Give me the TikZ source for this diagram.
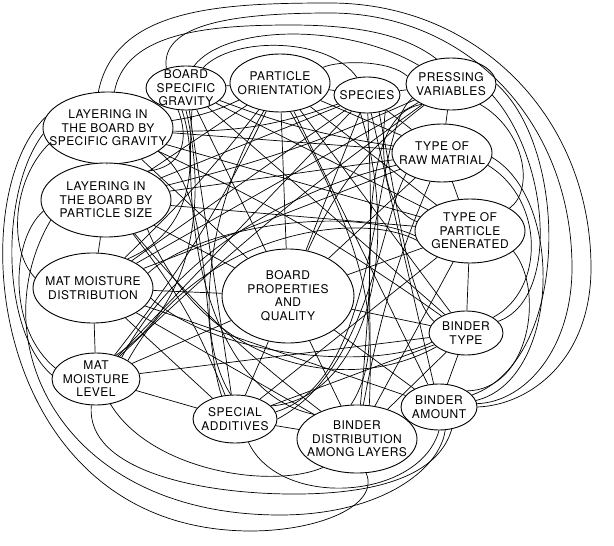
\documentclass[tikz,border=0pt]{standalone}
\usepackage{fontspec}
\usepackage{tikz}
\usetikzlibrary{shapes.geometric}
\newfontfamily\varfont[LetterSpace=4]{TeX Gyre Heros}

\begin{document}
\begin{tikzpicture}[x=1pt, y=1pt,
  var/.style 2 args={draw, ellipse, fill=white, line width=0.9pt, inner sep=0pt, minimum width=#1, minimum height=#2},
  txt/.style={align=center, inner sep=0pt, font=\varfont\fontsize{12}{13.5}\selectfont},
  link/.style={line width=0.7pt}
]
\useasboundingbox (0,0) rectangle (614,-546);

% Variables
\node[var={80pt}{44pt}, label={[txt]center:{BOARD\\SPECIFIC\\GRAVITY}}] (bsg) at (186,-88) {};
\node[var={100pt}{58pt}, label={[txt]center:{PARTICLE\\ORIENTATION}}] (po) at (280,-83) {};
\node[var={66pt}{36pt}, label={[txt]center:{SPECIES}}] (sp) at (367,-95) {};
\node[var={90pt}{52pt}, label={[txt]center:{PRESSING\\VARIABLES}}] (pv) at (451,-84) {};
\node[var={100pt}{58pt}, label={[txt]center:{TYPE OF\\RAW MATRIAL}}] (rm) at (442,-153) {};
\node[var={130pt}{72pt}, label={[txt]center:{LAYERING IN\\THE BOARD BY\\SPECIFIC GRAVITY}}] (lsg) at (108,-128) {};
\node[var={130pt}{74pt}, label={[txt]center:{LAYERING IN\\THE BOARD BY\\PARTICLE SIZE}}] (lps) at (106,-200) {};
\node[var={110pt}{64pt}, label={[txt]center:{TYPE OF\\PARTICLE\\GENERATED}}] (tpg) at (470,-231) {};
\node[var={120pt}{70pt}, label={[txt]center:{MAT MOISTURE\\DISTRIBUTION}}] (mmd) at (93,-288) {};
\node[var={132pt}{94pt}, label={[txt]center:{BOARD\\PROPERTIES\\AND\\QUALITY}}] (bpq) at (288,-296) {};
\node[var={74pt}{44pt}, label={[txt]center:{BINDER\\TYPE}}] (bt) at (466,-333) {};
\node[var={88pt}{52pt}, label={[txt]center:{MAT\\MOISTURE\\LEVEL}}] (mml) at (96,-379) {};
\node[var={84pt}{48pt}, label={[txt]center:{SPECIAL\\ADDITIVES}}] (sa) at (235,-419) {};
\node[var={120pt}{68pt}, label={[txt]center:{BINDER\\DISTRIBUTION\\AMONG LAYERS}}] (bdl) at (357,-439) {};
\node[var={76pt}{46pt}, label={[txt]center:{BINDER\\AMOUNT}}] (ba) at (439,-407) {};

% Neighbours round the ring
\draw[link] (lsg) -- (bsg) (bsg) -- (po) (po) -- (sp) (sp) -- (pv) (pv) -- (rm) (rm) -- (tpg)
  (tpg) -- (bt) (bt) -- (ba) (ba) -- (bdl) (bdl) -- (sa) (sa) -- (mml) (mml) -- (mmd)
  (mmd) -- (lps) (lps) -- (lsg);

% Board properties to every variable
\draw[link] (bpq) -- (lsg) (bpq) -- (lps) (bpq) -- (mmd) (bpq) -- (mml) (bpq) -- (sa)
  (bpq) -- (bdl) (bpq) -- (ba) (bpq) -- (bt) (bpq) -- (tpg) (bpq) -- (rm)
  (bpq) to[bend left=14] (pv) (bpq) -- (sp) (bpq) -- (po) (bpq) -- (bsg);

% Straight chords
\draw[link] (lsg) -- (tpg) (lsg) -- (rm) (lsg) to[bend left=5] (bt) (lsg) to[bend right=10] (sp)
  (po) to[bend left=8] (lsg);
\draw[link] (lps) -- (tpg) (lps) -- (rm) (lps) -- (sp) (lps) -- (po) (lps) to[bend left=8] (sa)
  (lps) to[bend right=6] (bdl) (pv) to[bend left=5] (lps);
\draw[link] (mmd) -- (sa) (mmd) -- (bdl) (mmd) -- (ba) (mmd) -- (rm) (mmd) -- (pv) (mmd) -- (sp)
  (mmd) to[bend right=4] (po);
\draw[link] (mml) -- (bt) (mml) -- (sp) (po) to[bend left=6] (mml) (pv) to[bend right=4] (mml);
\draw[link] (sa) -- (bt) (sa) -- (tpg) (sa) -- (bsg);
\draw[link] (bdl) -- (bt) (bdl) -- (tpg) (rm) to[bend right=6] (bdl) (sp) to[bend left=4] (bdl);
\draw[link] (ba) -- (sp) (ba) -- (po) (bt) -- (po) (bt) -- (bsg) (tpg) -- (po) (tpg) -- (bsg);
\draw[link] (rm) -- (sp) (rm) -- (po) (bsg) to[bend right=6] (rm);

% Curved links round other variables
\draw[link] (lsg.195) .. controls (12,-180) and (8,-250) .. (mmd.170);
\draw[link] (lsg.185) .. controls (0,-190) and (0,-330) .. (mml.175);
\draw[link] (lps.190) .. controls (10,-240) and (8,-330) .. (mml.165);
\draw[link] (lsg.-25) .. controls (215,-190) and (200,-330) .. (sa.120);
\draw[link] (bsg.-110) .. controls (190,-140) and (182,-168) .. (lps.35);
\draw[link] (bsg.-100) .. controls (198,-160) and (195,-230) .. (mmd.40);
\draw[link] (bsg.-90) .. controls (205,-190) and (200,-300) .. (mml.50);
\draw[link] (bsg.-75) .. controls (180,-300) and (240,-400) .. (bdl.150);
\draw[link] (po.-120) .. controls (210,-200) and (190,-330) .. (sa.100);
\draw[link] (po.-70) .. controls (340,-200) and (400,-330) .. (bdl.100);
\draw[link] (sp.-110) .. controls (405,-260) and (360,-400) .. (sa.20);
\draw[link] (pv.-160) .. controls (370,-130) and (385,-380) .. (sa.10);
\draw[link] (rm.-150) .. controls (380,-220) and (370,-370) .. (sa.0);
\draw[link] (rm.-165) .. controls (330,-180) and (190,-230) .. (mml.40);
\draw[link] (tpg.-170) .. controls (360,-210) and (200,-230) .. (mml.30);
\draw[link] (mmd.15) .. controls (200,-225) and (350,-205) .. (tpg.185);
\draw[link] (mmd.-10) .. controls (220,-360) and (380,-370) .. (bt.195);
\draw[link] (lps.-35) .. controls (200,-360) and (340,-400) .. (bt.205);
\draw[link] (sp.-55) .. controls (400,-220) and (410,-300) .. (bt.160);
\draw[link] (sp.-40) .. controls (380,-160) and (385,-210) .. (tpg.170);
\draw[link] (pv.-145) .. controls (350,-115) and (375,-300) .. (bdl.70);

% Right side
\draw[link] (pv.-35) .. controls (525,-130) and (535,-190) .. (tpg.30);
\draw[link] (pv.-15) .. controls (550,-160) and (560,-300) .. (bt.20);
\draw[link] (pv.0) .. controls (570,-150) and (570,-360) .. (ba.20);
\draw[link] (rm.-15) .. controls (545,-200) and (545,-290) .. (bt.30);
\draw[link] (rm.-5) .. controls (565,-200) and (560,-380) .. (ba.10);
\draw[link] (tpg.-25) .. controls (545,-290) and (530,-390) .. (ba.30);

% Over the top
\draw[link] (lsg.105) .. controls (115,-8) and (220,-3) .. (330,-3)
  .. controls (480,-3) and (592,-120) .. (591,-270) .. controls (590,-360) and (530,-405) .. (ba.0);
\draw[link] (bsg.135) .. controls (160,-25) and (230,-13) .. (330,-13)
  .. controls (470,-13) and (573,-125) .. (572,-270) .. controls (571,-350) and (525,-402) .. (ba.5);
\draw[link] (bsg.70) .. controls (225,-25) and (345,-22) .. (pv.150);
\draw[link] (lsg.80) .. controls (125,-35) and (200,-25) .. (290,-25)
  .. controls (360,-25) and (405,-35) .. (pv.120);
\draw[link] (bsg.50) .. controls (235,-35) and (330,-38) .. (sp.120);
\draw[link] (po.20) .. controls (340,-60) and (390,-60) .. (pv.170);

% Along the bottom
\draw[link] (lsg.170) .. controls (-40,-200) and (-10,-530) .. (250,-531)
  .. controls (320,-531) and (380,-505) .. (bdl.-75);
\draw[link] (lps.200) .. controls (-20,-340) and (60,-515) .. (280,-515)
  .. controls (380,-515) and (440,-470) .. (ba.-75);
\draw[link] (mml.-100) .. controls (85,-470) and (200,-495) .. (300,-494)
  .. controls (390,-493) and (440,-470) .. (ba.-60);
\draw[link] (mml.-60) .. controls (150,-470) and (270,-490) .. (bdl.-140);
\draw[link] (sa.-60) .. controls (280,-510) and (420,-500) .. (ba.-90);

\end{tikzpicture}
\end{document}
